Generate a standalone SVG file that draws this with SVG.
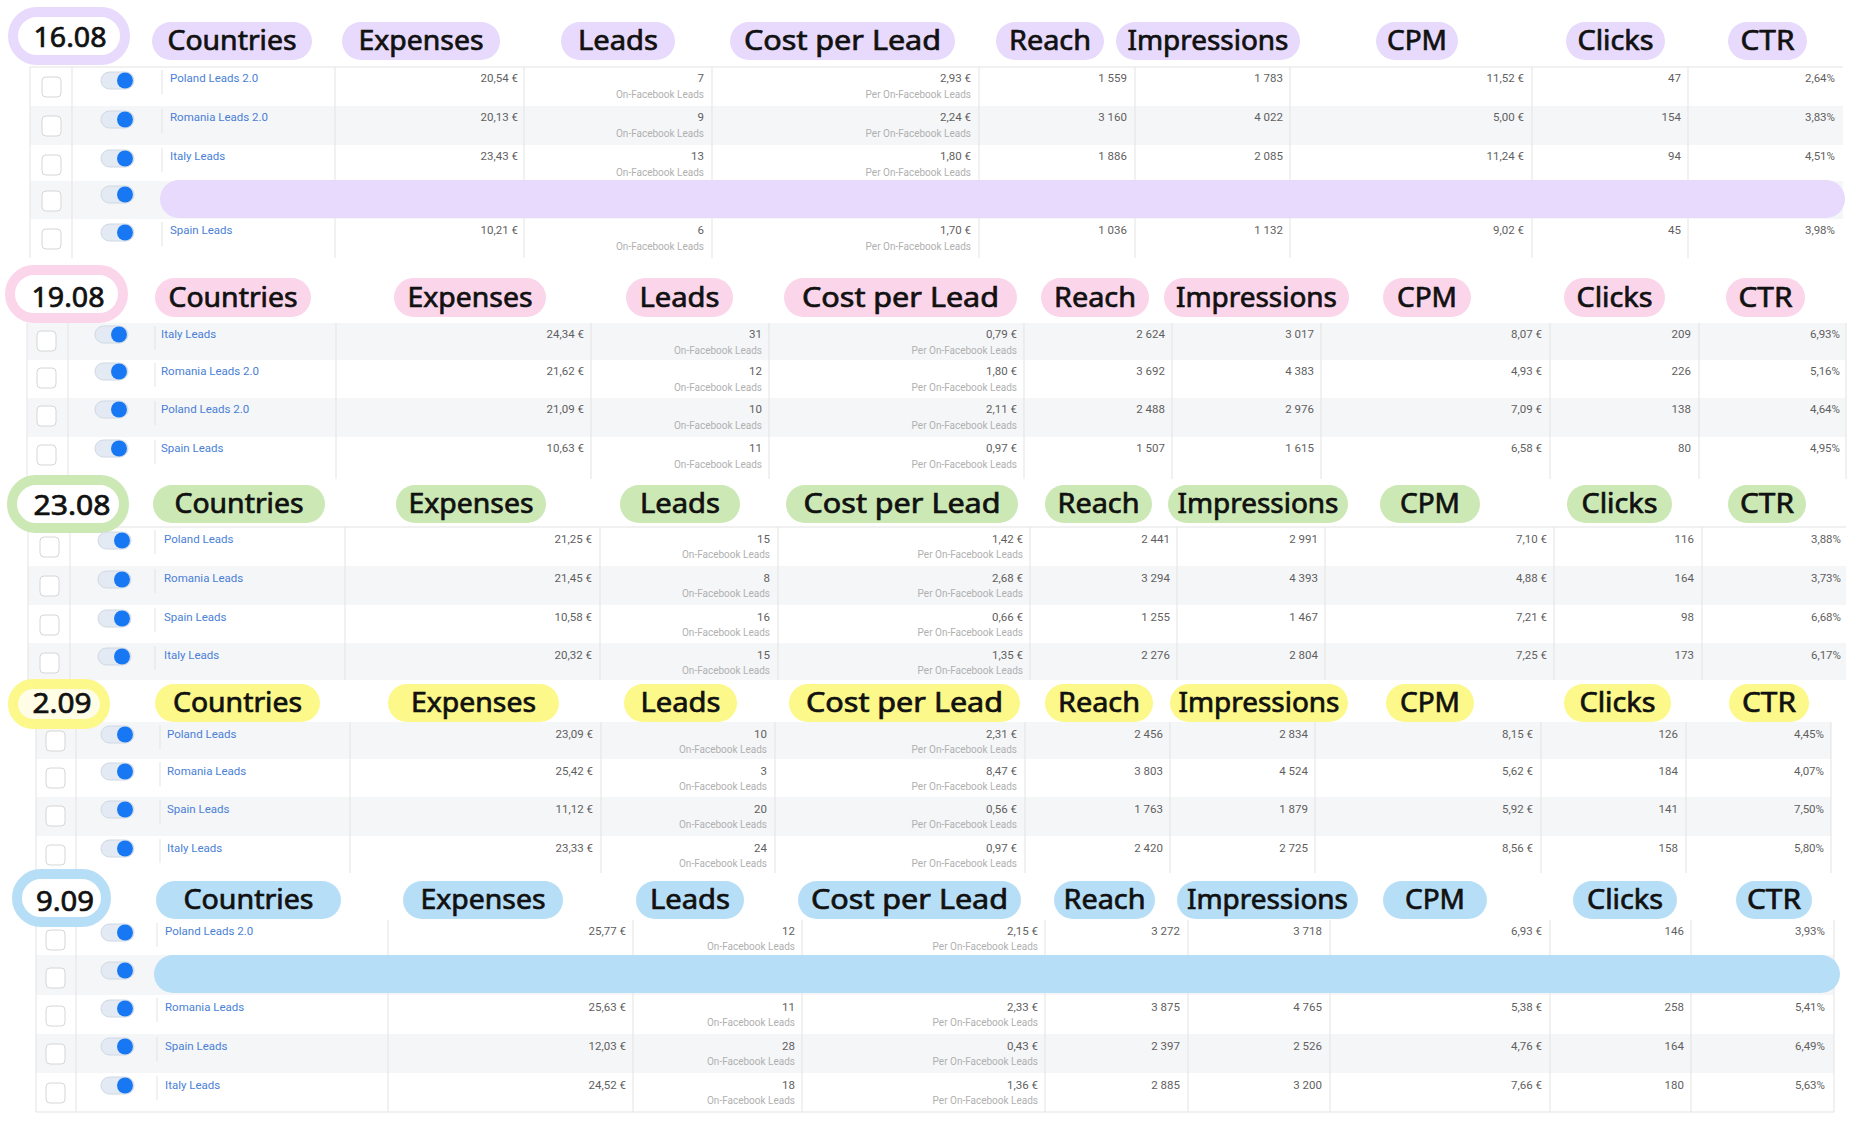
<svg xmlns="http://www.w3.org/2000/svg" xmlns:xlink="http://www.w3.org/1999/xlink" width="1858" height="1129" viewBox="0 0 1858 1129">
<style>
.h{font-family:"Noto Sans","DejaVu Sans",sans-serif;font-size:27px;fill:#111;stroke:#111;stroke-width:0.7px;text-anchor:middle}
.n{font-family:Roboto,"Liberation Sans",sans-serif;font-size:11.5px;fill:#4a7fd6}
.v{font-family:Roboto,"Liberation Sans",sans-serif;font-size:11.5px;fill:#5f5f5f;text-anchor:end}
.s{font-family:Roboto,"Liberation Sans",sans-serif;font-size:10px;fill:#b0b0b0;text-anchor:end}
.g{stroke:#e3e3e3;stroke-width:1}
.bg{fill:#f5f6f8}
.p1{fill:#e7dafc}.p2{fill:#fbd6eb}.p3{fill:#cbe8b5}.p4{fill:#fcf88a}.p5{fill:#b7def7}
</style>
<defs>
<rect id="cb" width="19" height="20" rx="4" fill="#fff" stroke="#d6d6d6"/>
<g id="tg"><rect width="33" height="17" rx="8.5" fill="#e3eaf4" stroke="#cfd8e3"/><circle cx="24" cy="8.5" r="8" fill="#1877f2"/></g>
</defs>
<rect width="1858" height="1129" fill="#fff"/>

<!-- ================= 16.08 ================= -->
<g id="sec-1608">
<g id="s1-bg"><rect class="bg" x="30" y="106" width="1813" height="39"/><rect class="bg" x="30" y="181" width="1813" height="38"/></g>
<g id="s1-grid">
<line class="g" x1="30" y1="67" x2="1843" y2="67"/>
<line class="g" x1="30" y1="67" x2="30" y2="258"/><line class="g" x1="72" y1="67" x2="72" y2="258"/>
<line class="g" x1="335" y1="67" x2="335" y2="258"/><line class="g" x1="524" y1="67" x2="524" y2="258"/><line class="g" x1="712" y1="67" x2="712" y2="258"/><line class="g" x1="979" y1="67" x2="979" y2="258"/><line class="g" x1="1135" y1="67" x2="1135" y2="258"/><line class="g" x1="1290" y1="67" x2="1290" y2="258"/><line class="g" x1="1532" y1="67" x2="1532" y2="258"/><line class="g" x1="1688" y1="67" x2="1688" y2="258"/>
<line class="g" x1="162" y1="70" x2="162" y2="94"/><line class="g" x1="162" y1="109" x2="162" y2="133"/><line class="g" x1="162" y1="148" x2="162" y2="172"/><line class="g" x1="162" y1="222" x2="162" y2="246"/>
</g>
<g id="s1-date"><rect x="13" y="12" width="112" height="48" rx="24" fill="#fff" stroke="#e7dafc" stroke-width="10"/><text class="h" x="70" y="47" textLength="73" lengthAdjust="spacingAndGlyphs">16.08</text></g>
<g id="s1-head">
<g id="s1-countries"><rect class="p1" x="152" y="22" width="160" height="38" rx="19"/><text class="h" x="232" y="50" textLength="129" lengthAdjust="spacingAndGlyphs">Countries</text></g>
<g id="s1-expenses"><rect class="p1" x="342" y="22" width="158" height="38" rx="19"/><text class="h" x="421" y="50" textLength="125" lengthAdjust="spacingAndGlyphs">Expenses</text></g>
<g id="s1-leads"><rect class="p1" x="561" y="22" width="114" height="38" rx="19"/><text class="h" x="618" y="50" textLength="80" lengthAdjust="spacingAndGlyphs">Leads</text></g>
<g id="s1-cpl"><rect class="p1" x="730" y="22" width="225" height="38" rx="19"/><text class="h" x="842.5" y="50" textLength="197" lengthAdjust="spacingAndGlyphs">Cost per Lead</text></g>
<g id="s1-reach"><rect class="p1" x="996" y="22" width="108" height="38" rx="19"/><text class="h" x="1050" y="50" textLength="82" lengthAdjust="spacingAndGlyphs">Reach</text></g>
<g id="s1-impr"><rect class="p1" x="1116" y="22" width="184" height="38" rx="19"/><text class="h" x="1208" y="50" textLength="161" lengthAdjust="spacingAndGlyphs">Impressions</text></g>
<g id="s1-cpm"><rect class="p1" x="1376" y="22" width="82" height="38" rx="19"/><text class="h" x="1417" y="50" textLength="60" lengthAdjust="spacingAndGlyphs">CPM</text></g>
<g id="s1-clicks"><rect class="p1" x="1566" y="22" width="99" height="38" rx="19"/><text class="h" x="1615.5" y="50" textLength="76" lengthAdjust="spacingAndGlyphs">Clicks</text></g>
<g id="s1-ctr"><rect class="p1" x="1728" y="22" width="79" height="38" rx="19"/><text class="h" x="1767.5" y="50" textLength="54" lengthAdjust="spacingAndGlyphs">CTR</text></g>
</g>
<g id="s1-rows">
<use href="#cb" x="42" y="77"/><use href="#tg" x="101" y="72"/>
<text class="n" x="170" y="82">Poland Leads 2.0</text><text class="v" x="518" y="82">20,54 €</text><text class="v" x="704" y="82">7</text><text class="s" x="704" y="98">On-Facebook Leads</text><text class="v" x="971" y="82">2,93 €</text><text class="s" x="971" y="98">Per On-Facebook Leads</text><text class="v" x="1127" y="82">1 559</text><text class="v" x="1283" y="82">1 783</text><text class="v" x="1524" y="82">11,52 €</text><text class="v" x="1681" y="82">47</text><text class="v" x="1835" y="82">2,64%</text>
<use href="#cb" x="42" y="116"/><use href="#tg" x="101" y="111"/>
<text class="n" x="170" y="121">Romania Leads 2.0</text><text class="v" x="518" y="121">20,13 €</text><text class="v" x="704" y="121">9</text><text class="s" x="704" y="137">On-Facebook Leads</text><text class="v" x="971" y="121">2,24 €</text><text class="s" x="971" y="137">Per On-Facebook Leads</text><text class="v" x="1127" y="121">3 160</text><text class="v" x="1283" y="121">4 022</text><text class="v" x="1524" y="121">5,00 €</text><text class="v" x="1681" y="121">154</text><text class="v" x="1835" y="121">3,83%</text>
<use href="#cb" x="42" y="155"/><use href="#tg" x="101" y="150"/>
<text class="n" x="170" y="160">Italy Leads</text><text class="v" x="518" y="160">23,43 €</text><text class="v" x="704" y="160">13</text><text class="s" x="704" y="176">On-Facebook Leads</text><text class="v" x="971" y="160">1,80 €</text><text class="s" x="971" y="176">Per On-Facebook Leads</text><text class="v" x="1127" y="160">1 886</text><text class="v" x="1283" y="160">2 085</text><text class="v" x="1524" y="160">11,24 €</text><text class="v" x="1681" y="160">94</text><text class="v" x="1835" y="160">4,51%</text>
<use href="#cb" x="42" y="191"/><use href="#tg" x="101" y="186"/>
<rect id="s1-highlight" class="p1" x="160" y="180" width="1685" height="38" rx="19"/>
<use href="#cb" x="42" y="229"/><use href="#tg" x="101" y="224"/>
<text class="n" x="170" y="234">Spain Leads</text><text class="v" x="518" y="234">10,21 €</text><text class="v" x="704" y="234">6</text><text class="s" x="704" y="250">On-Facebook Leads</text><text class="v" x="971" y="234">1,70 €</text><text class="s" x="971" y="250">Per On-Facebook Leads</text><text class="v" x="1127" y="234">1 036</text><text class="v" x="1283" y="234">1 132</text><text class="v" x="1524" y="234">9,02 €</text><text class="v" x="1681" y="234">45</text><text class="v" x="1835" y="234">3,98%</text>
</g>
</g>

<!-- ================= 19.08 ================= -->
<g id="sec-1908">
<g id="s2-bg"><rect class="bg" x="27" y="323" width="1819" height="37"/><rect class="bg" x="27" y="398" width="1819" height="39"/></g>
<g id="s2-grid">
<line class="g" x1="27" y1="323" x2="27" y2="479"/><line class="g" x1="68" y1="323" x2="68" y2="479"/>
<line class="g" x1="336" y1="323" x2="336" y2="479"/><line class="g" x1="591" y1="323" x2="591" y2="479"/><line class="g" x1="769" y1="323" x2="769" y2="479"/><line class="g" x1="1024" y1="323" x2="1024" y2="479"/><line class="g" x1="1172" y1="323" x2="1172" y2="479"/><line class="g" x1="1321" y1="323" x2="1321" y2="479"/><line class="g" x1="1550" y1="323" x2="1550" y2="479"/><line class="g" x1="1699" y1="323" x2="1699" y2="479"/><line class="g" x1="1846" y1="323" x2="1846" y2="479"/>
<line class="g" x1="155" y1="326" x2="155" y2="350"/><line class="g" x1="155" y1="363" x2="155" y2="387"/><line class="g" x1="155" y1="401" x2="155" y2="425"/><line class="g" x1="155" y1="440" x2="155" y2="464"/>
</g>
<g id="s2-date"><rect x="10" y="270" width="113" height="48" rx="24" fill="#fff" stroke="#fbd6eb" stroke-width="10"/><text class="h" x="68" y="307" textLength="73" lengthAdjust="spacingAndGlyphs">19.08</text></g>
<g id="s2-head">
<g id="s2-countries"><rect class="p2" x="155" y="278" width="156" height="39" rx="19.5"/><text class="h" x="233" y="306.5" textLength="129" lengthAdjust="spacingAndGlyphs">Countries</text></g>
<g id="s2-expenses"><rect class="p2" x="394" y="278" width="152" height="39" rx="19.5"/><text class="h" x="470" y="306.5" textLength="125" lengthAdjust="spacingAndGlyphs">Expenses</text></g>
<g id="s2-leads"><rect class="p2" x="626" y="278" width="107" height="39" rx="19.5"/><text class="h" x="679.5" y="306.5" textLength="80" lengthAdjust="spacingAndGlyphs">Leads</text></g>
<g id="s2-cpl"><rect class="p2" x="784" y="278" width="233" height="39" rx="19.5"/><text class="h" x="900.5" y="306.5" textLength="197" lengthAdjust="spacingAndGlyphs">Cost per Lead</text></g>
<g id="s2-reach"><rect class="p2" x="1041" y="278" width="108" height="39" rx="19.5"/><text class="h" x="1095" y="306.5" textLength="82" lengthAdjust="spacingAndGlyphs">Reach</text></g>
<g id="s2-impr"><rect class="p2" x="1164" y="278" width="185" height="39" rx="19.5"/><text class="h" x="1256.5" y="306.5" textLength="161" lengthAdjust="spacingAndGlyphs">Impressions</text></g>
<g id="s2-cpm"><rect class="p2" x="1383" y="278" width="88" height="39" rx="19.5"/><text class="h" x="1427" y="306.5" textLength="60" lengthAdjust="spacingAndGlyphs">CPM</text></g>
<g id="s2-clicks"><rect class="p2" x="1564" y="278" width="101" height="39" rx="19.5"/><text class="h" x="1614.5" y="306.5" textLength="76" lengthAdjust="spacingAndGlyphs">Clicks</text></g>
<g id="s2-ctr"><rect class="p2" x="1726" y="278" width="79" height="39" rx="19.5"/><text class="h" x="1765.5" y="306.5" textLength="54" lengthAdjust="spacingAndGlyphs">CTR</text></g>
</g>
<g id="s2-rows">
<use href="#cb" x="37" y="331"/><use href="#tg" x="95" y="326"/>
<text class="n" x="161" y="338">Italy Leads</text><text class="v" x="584" y="338">24,34 €</text><text class="v" x="762" y="338">31</text><text class="s" x="762" y="354">On-Facebook Leads</text><text class="v" x="1017" y="338">0,79 €</text><text class="s" x="1017" y="354">Per On-Facebook Leads</text><text class="v" x="1165" y="338">2 624</text><text class="v" x="1314" y="338">3 017</text><text class="v" x="1542" y="338">8,07 €</text><text class="v" x="1691" y="338">209</text><text class="v" x="1840" y="338">6,93%</text>
<use href="#cb" x="37" y="368"/><use href="#tg" x="95" y="363"/>
<text class="n" x="161" y="375">Romania Leads 2.0</text><text class="v" x="584" y="375">21,62 €</text><text class="v" x="762" y="375">12</text><text class="s" x="762" y="391">On-Facebook Leads</text><text class="v" x="1017" y="375">1,80 €</text><text class="s" x="1017" y="391">Per On-Facebook Leads</text><text class="v" x="1165" y="375">3 692</text><text class="v" x="1314" y="375">4 383</text><text class="v" x="1542" y="375">4,93 €</text><text class="v" x="1691" y="375">226</text><text class="v" x="1840" y="375">5,16%</text>
<use href="#cb" x="37" y="406"/><use href="#tg" x="95" y="401"/>
<text class="n" x="161" y="413">Poland Leads 2.0</text><text class="v" x="584" y="413">21,09 €</text><text class="v" x="762" y="413">10</text><text class="s" x="762" y="429">On-Facebook Leads</text><text class="v" x="1017" y="413">2,11 €</text><text class="s" x="1017" y="429">Per On-Facebook Leads</text><text class="v" x="1165" y="413">2 488</text><text class="v" x="1314" y="413">2 976</text><text class="v" x="1542" y="413">7,09 €</text><text class="v" x="1691" y="413">138</text><text class="v" x="1840" y="413">4,64%</text>
<use href="#cb" x="37" y="445"/><use href="#tg" x="95" y="440"/>
<text class="n" x="161" y="452">Spain Leads</text><text class="v" x="584" y="452">10,63 €</text><text class="v" x="762" y="452">11</text><text class="s" x="762" y="468">On-Facebook Leads</text><text class="v" x="1017" y="452">0,97 €</text><text class="s" x="1017" y="468">Per On-Facebook Leads</text><text class="v" x="1165" y="452">1 507</text><text class="v" x="1314" y="452">1 615</text><text class="v" x="1542" y="452">6,58 €</text><text class="v" x="1691" y="452">80</text><text class="v" x="1840" y="452">4,95%</text>
</g>
</g>

<!-- ================= 23.08 ================= -->
<g id="sec-2308">
<g id="s3-bg"><rect class="bg" x="28" y="566" width="1818" height="39"/><rect class="bg" x="28" y="643" width="1818" height="37"/></g>
<g id="s3-grid">
<line class="g" x1="28" y1="527" x2="1846" y2="527"/>
<line class="g" x1="28" y1="527" x2="28" y2="680"/><line class="g" x1="70" y1="527" x2="70" y2="680"/>
<line class="g" x1="345" y1="527" x2="345" y2="680"/><line class="g" x1="600" y1="527" x2="600" y2="680"/><line class="g" x1="778" y1="527" x2="778" y2="680"/><line class="g" x1="1030" y1="527" x2="1030" y2="680"/><line class="g" x1="1177" y1="527" x2="1177" y2="680"/><line class="g" x1="1325" y1="527" x2="1325" y2="680"/><line class="g" x1="1554" y1="527" x2="1554" y2="680"/><line class="g" x1="1702" y1="527" x2="1702" y2="680"/>
<line class="g" x1="155" y1="530" x2="155" y2="554"/><line class="g" x1="155" y1="569" x2="155" y2="593"/><line class="g" x1="155" y1="608" x2="155" y2="632"/><line class="g" x1="155" y1="646" x2="155" y2="670"/>
</g>
<g id="s3-date"><rect x="12" y="480" width="112" height="48" rx="24" fill="#fff" stroke="#cbe8b5" stroke-width="10"/><text class="h" x="72" y="515" textLength="77" lengthAdjust="spacingAndGlyphs">23.08</text></g>
<g id="s3-head">
<g id="s3-countries"><rect class="p3" x="153" y="485" width="172" height="38" rx="19"/><text class="h" x="239" y="513" textLength="129" lengthAdjust="spacingAndGlyphs">Countries</text></g>
<g id="s3-expenses"><rect class="p3" x="396" y="485" width="150" height="38" rx="19"/><text class="h" x="471" y="513" textLength="125" lengthAdjust="spacingAndGlyphs">Expenses</text></g>
<g id="s3-leads"><rect class="p3" x="620" y="485" width="120" height="38" rx="19"/><text class="h" x="680" y="513" textLength="80" lengthAdjust="spacingAndGlyphs">Leads</text></g>
<g id="s3-cpl"><rect class="p3" x="786" y="485" width="232" height="38" rx="19"/><text class="h" x="902" y="513" textLength="197" lengthAdjust="spacingAndGlyphs">Cost per Lead</text></g>
<g id="s3-reach"><rect class="p3" x="1045" y="485" width="107" height="38" rx="19"/><text class="h" x="1098.5" y="513" textLength="82" lengthAdjust="spacingAndGlyphs">Reach</text></g>
<g id="s3-impr"><rect class="p3" x="1168" y="485" width="180" height="38" rx="19"/><text class="h" x="1258" y="513" textLength="161" lengthAdjust="spacingAndGlyphs">Impressions</text></g>
<g id="s3-cpm"><rect class="p3" x="1380" y="485" width="100" height="38" rx="19"/><text class="h" x="1430" y="513" textLength="60" lengthAdjust="spacingAndGlyphs">CPM</text></g>
<g id="s3-clicks"><rect class="p3" x="1567" y="485" width="105" height="38" rx="19"/><text class="h" x="1619.5" y="513" textLength="76" lengthAdjust="spacingAndGlyphs">Clicks</text></g>
<g id="s3-ctr"><rect class="p3" x="1728" y="485" width="78" height="38" rx="19"/><text class="h" x="1767" y="513" textLength="54" lengthAdjust="spacingAndGlyphs">CTR</text></g>
</g>
<g id="s3-rows">
<use href="#cb" x="40" y="537"/><use href="#tg" x="98" y="532"/>
<text class="n" x="164" y="543">Poland Leads</text><text class="v" x="592" y="543">21,25 €</text><text class="v" x="770" y="543">15</text><text class="s" x="770" y="558">On-Facebook Leads</text><text class="v" x="1023" y="543">1,42 €</text><text class="s" x="1023" y="558">Per On-Facebook Leads</text><text class="v" x="1170" y="543">2 441</text><text class="v" x="1318" y="543">2 991</text><text class="v" x="1547" y="543">7,10 €</text><text class="v" x="1694" y="543">116</text><text class="v" x="1841" y="543">3,88%</text>
<use href="#cb" x="40" y="576"/><use href="#tg" x="98" y="571"/>
<text class="n" x="164" y="582">Romania Leads</text><text class="v" x="592" y="582">21,45 €</text><text class="v" x="770" y="582">8</text><text class="s" x="770" y="597">On-Facebook Leads</text><text class="v" x="1023" y="582">2,68 €</text><text class="s" x="1023" y="597">Per On-Facebook Leads</text><text class="v" x="1170" y="582">3 294</text><text class="v" x="1318" y="582">4 393</text><text class="v" x="1547" y="582">4,88 €</text><text class="v" x="1694" y="582">164</text><text class="v" x="1841" y="582">3,73%</text>
<use href="#cb" x="40" y="615"/><use href="#tg" x="98" y="610"/>
<text class="n" x="164" y="621">Spain Leads</text><text class="v" x="592" y="621">10,58 €</text><text class="v" x="770" y="621">16</text><text class="s" x="770" y="636">On-Facebook Leads</text><text class="v" x="1023" y="621">0,66 €</text><text class="s" x="1023" y="636">Per On-Facebook Leads</text><text class="v" x="1170" y="621">1 255</text><text class="v" x="1318" y="621">1 467</text><text class="v" x="1547" y="621">7,21 €</text><text class="v" x="1694" y="621">98</text><text class="v" x="1841" y="621">6,68%</text>
<use href="#cb" x="40" y="653"/><use href="#tg" x="98" y="648"/>
<text class="n" x="164" y="659">Italy Leads</text><text class="v" x="592" y="659">20,32 €</text><text class="v" x="770" y="659">15</text><text class="s" x="770" y="674">On-Facebook Leads</text><text class="v" x="1023" y="659">1,35 €</text><text class="s" x="1023" y="674">Per On-Facebook Leads</text><text class="v" x="1170" y="659">2 276</text><text class="v" x="1318" y="659">2 804</text><text class="v" x="1547" y="659">7,25 €</text><text class="v" x="1694" y="659">173</text><text class="v" x="1841" y="659">6,17%</text>
</g>
</g>

<!-- ================= 2.09 ================= -->
<g id="sec-0209">
<g id="s4-bg"><rect class="bg" x="36" y="722" width="1795" height="37"/><rect class="bg" x="36" y="797" width="1795" height="39"/></g>
<g id="s4-grid">
<line class="g" x1="36" y1="722" x2="36" y2="873"/><line class="g" x1="76" y1="722" x2="76" y2="873"/>
<line class="g" x1="350" y1="722" x2="350" y2="873"/><line class="g" x1="601" y1="722" x2="601" y2="873"/><line class="g" x1="775" y1="722" x2="775" y2="873"/><line class="g" x1="1025" y1="722" x2="1025" y2="873"/><line class="g" x1="1170" y1="722" x2="1170" y2="873"/><line class="g" x1="1315" y1="722" x2="1315" y2="873"/><line class="g" x1="1541" y1="722" x2="1541" y2="873"/><line class="g" x1="1686" y1="722" x2="1686" y2="873"/><line class="g" x1="1831" y1="722" x2="1831" y2="873"/>
<line class="g" x1="160" y1="725" x2="160" y2="749"/><line class="g" x1="160" y1="762" x2="160" y2="786"/><line class="g" x1="160" y1="800" x2="160" y2="824"/><line class="g" x1="160" y1="839" x2="160" y2="863"/>
</g>
<g id="s4-head">
<g id="s4-countries"><rect class="p4" x="155" y="684" width="165" height="38" rx="19"/><text class="h" x="237.5" y="712" textLength="129" lengthAdjust="spacingAndGlyphs">Countries</text></g>
<g id="s4-expenses"><rect class="p4" x="388" y="684" width="171" height="38" rx="19"/><text class="h" x="473.5" y="712" textLength="125" lengthAdjust="spacingAndGlyphs">Expenses</text></g>
<g id="s4-leads"><rect class="p4" x="624" y="684" width="113" height="38" rx="19"/><text class="h" x="680.5" y="712" textLength="80" lengthAdjust="spacingAndGlyphs">Leads</text></g>
<g id="s4-cpl"><rect class="p4" x="789" y="684" width="231" height="38" rx="19"/><text class="h" x="904.5" y="712" textLength="197" lengthAdjust="spacingAndGlyphs">Cost per Lead</text></g>
<g id="s4-reach"><rect class="p4" x="1045" y="684" width="108" height="38" rx="19"/><text class="h" x="1099" y="712" textLength="82" lengthAdjust="spacingAndGlyphs">Reach</text></g>
<g id="s4-impr"><rect class="p4" x="1170" y="684" width="178" height="38" rx="19"/><text class="h" x="1259" y="712" textLength="161" lengthAdjust="spacingAndGlyphs">Impressions</text></g>
<g id="s4-cpm"><rect class="p4" x="1386" y="684" width="88" height="38" rx="19"/><text class="h" x="1430" y="712" textLength="60" lengthAdjust="spacingAndGlyphs">CPM</text></g>
<g id="s4-clicks"><rect class="p4" x="1564" y="684" width="107" height="38" rx="19"/><text class="h" x="1617.5" y="712" textLength="76" lengthAdjust="spacingAndGlyphs">Clicks</text></g>
<g id="s4-ctr"><rect class="p4" x="1729" y="684" width="80" height="38" rx="19"/><text class="h" x="1769" y="712" textLength="54" lengthAdjust="spacingAndGlyphs">CTR</text></g>
</g>
<g id="s4-rows">
<use href="#cb" x="46" y="731"/><use href="#tg" x="101" y="726"/>
<text class="n" x="167" y="738">Poland Leads</text><text class="v" x="593" y="738">23,09 €</text><text class="v" x="767" y="738">10</text><text class="s" x="767" y="753">On-Facebook Leads</text><text class="v" x="1017" y="738">2,31 €</text><text class="s" x="1017" y="753">Per On-Facebook Leads</text><text class="v" x="1163" y="738">2 456</text><text class="v" x="1308" y="738">2 834</text><text class="v" x="1533" y="738">8,15 €</text><text class="v" x="1678" y="738">126</text><text class="v" x="1824" y="738">4,45%</text>
<use href="#cb" x="46" y="768"/><use href="#tg" x="101" y="763"/>
<text class="n" x="167" y="775">Romania Leads</text><text class="v" x="593" y="775">25,42 €</text><text class="v" x="767" y="775">3</text><text class="s" x="767" y="790">On-Facebook Leads</text><text class="v" x="1017" y="775">8,47 €</text><text class="s" x="1017" y="790">Per On-Facebook Leads</text><text class="v" x="1163" y="775">3 803</text><text class="v" x="1308" y="775">4 524</text><text class="v" x="1533" y="775">5,62 €</text><text class="v" x="1678" y="775">184</text><text class="v" x="1824" y="775">4,07%</text>
<use href="#cb" x="46" y="806"/><use href="#tg" x="101" y="801"/>
<text class="n" x="167" y="813">Spain Leads</text><text class="v" x="593" y="813">11,12 €</text><text class="v" x="767" y="813">20</text><text class="s" x="767" y="828">On-Facebook Leads</text><text class="v" x="1017" y="813">0,56 €</text><text class="s" x="1017" y="828">Per On-Facebook Leads</text><text class="v" x="1163" y="813">1 763</text><text class="v" x="1308" y="813">1 879</text><text class="v" x="1533" y="813">5,92 €</text><text class="v" x="1678" y="813">141</text><text class="v" x="1824" y="813">7,50%</text>
<use href="#cb" x="46" y="845"/><use href="#tg" x="101" y="840"/>
<text class="n" x="167" y="852">Italy Leads</text><text class="v" x="593" y="852">23,33 €</text><text class="v" x="767" y="852">24</text><text class="s" x="767" y="867">On-Facebook Leads</text><text class="v" x="1017" y="852">0,97 €</text><text class="s" x="1017" y="867">Per On-Facebook Leads</text><text class="v" x="1163" y="852">2 420</text><text class="v" x="1308" y="852">2 725</text><text class="v" x="1533" y="852">8,56 €</text><text class="v" x="1678" y="852">158</text><text class="v" x="1824" y="852">5,80%</text>
</g>
<g id="s4-date"><rect x="13" y="684" width="92" height="40" rx="20" fill="#fffde6" stroke="#fcf88a" stroke-width="10"/><text class="h" x="62" y="713" textLength="59" lengthAdjust="spacingAndGlyphs">2.09</text></g>
</g>

<!-- ================= 9.09 ================= -->
<g id="sec-0909">
<g id="s5-bg"><rect class="bg" x="36" y="955" width="1798" height="40"/><rect class="bg" x="36" y="1034" width="1798" height="39"/></g>
<g id="s5-grid">
<line class="g" x1="36" y1="920" x2="36" y2="1112"/><line class="g" x1="76" y1="920" x2="76" y2="1112"/>
<line class="g" x1="388" y1="920" x2="388" y2="1112"/><line class="g" x1="633" y1="920" x2="633" y2="1112"/><line class="g" x1="802" y1="920" x2="802" y2="1112"/><line class="g" x1="1045" y1="920" x2="1045" y2="1112"/><line class="g" x1="1188" y1="920" x2="1188" y2="1112"/><line class="g" x1="1330" y1="920" x2="1330" y2="1112"/><line class="g" x1="1550" y1="920" x2="1550" y2="1112"/><line class="g" x1="1691" y1="920" x2="1691" y2="1112"/><line class="g" x1="1834" y1="920" x2="1834" y2="1112"/>
<line class="g" x1="36" y1="1112" x2="1834" y2="1112"/>
<line class="g" x1="157" y1="923" x2="157" y2="947"/><line class="g" x1="157" y1="998" x2="157" y2="1022"/><line class="g" x1="157" y1="1037" x2="157" y2="1061"/><line class="g" x1="157" y1="1076" x2="157" y2="1100"/>
</g>
<g id="s5-date"><rect x="17" y="874" width="89" height="48" rx="24" fill="#fff" stroke="#b7def7" stroke-width="10"/><text class="h" x="65" y="911" textLength="58" lengthAdjust="spacingAndGlyphs">9.09</text></g>
<g id="s5-head">
<g id="s5-countries"><rect class="p5" x="156" y="881" width="185" height="38" rx="19"/><text class="h" x="248.5" y="909" textLength="130" lengthAdjust="spacingAndGlyphs">Countries</text></g>
<g id="s5-expenses"><rect class="p5" x="403" y="881" width="160" height="38" rx="19"/><text class="h" x="483" y="909" textLength="125" lengthAdjust="spacingAndGlyphs">Expenses</text></g>
<g id="s5-leads"><rect class="p5" x="636" y="881" width="108" height="38" rx="19"/><text class="h" x="690" y="909" textLength="80" lengthAdjust="spacingAndGlyphs">Leads</text></g>
<g id="s5-cpl"><rect class="p5" x="798" y="881" width="223" height="38" rx="19"/><text class="h" x="909.5" y="909" textLength="197" lengthAdjust="spacingAndGlyphs">Cost per Lead</text></g>
<g id="s5-reach"><rect class="p5" x="1054" y="881" width="101" height="38" rx="19"/><text class="h" x="1104.5" y="909" textLength="82" lengthAdjust="spacingAndGlyphs">Reach</text></g>
<g id="s5-impr"><rect class="p5" x="1177" y="881" width="181" height="38" rx="19"/><text class="h" x="1267.5" y="909" textLength="161" lengthAdjust="spacingAndGlyphs">Impressions</text></g>
<g id="s5-cpm"><rect class="p5" x="1383" y="881" width="104" height="38" rx="19"/><text class="h" x="1435" y="909" textLength="60" lengthAdjust="spacingAndGlyphs">CPM</text></g>
<g id="s5-clicks"><rect class="p5" x="1573" y="881" width="104" height="38" rx="19"/><text class="h" x="1625" y="909" textLength="76" lengthAdjust="spacingAndGlyphs">Clicks</text></g>
<g id="s5-ctr"><rect class="p5" x="1736" y="881" width="76" height="38" rx="19"/><text class="h" x="1774" y="909" textLength="54" lengthAdjust="spacingAndGlyphs">CTR</text></g>
</g>
<g id="s5-rows">
<use href="#cb" x="46" y="930"/><use href="#tg" x="101" y="924"/>
<text class="n" x="165" y="935">Poland Leads 2.0</text><text class="v" x="626" y="935">25,77 €</text><text class="v" x="795" y="935">12</text><text class="s" x="795" y="950">On-Facebook Leads</text><text class="v" x="1038" y="935">2,15 €</text><text class="s" x="1038" y="950">Per On-Facebook Leads</text><text class="v" x="1180" y="935">3 272</text><text class="v" x="1322" y="935">3 718</text><text class="v" x="1542" y="935">6,93 €</text><text class="v" x="1684" y="935">146</text><text class="v" x="1825" y="935">3,93%</text>
<use href="#cb" x="46" y="968"/><use href="#tg" x="101" y="962"/>
<rect id="s5-highlight" class="p5" x="154" y="955" width="1686" height="38" rx="19"/>
<use href="#cb" x="46" y="1006"/><use href="#tg" x="101" y="1000"/>
<text class="n" x="165" y="1011">Romania Leads</text><text class="v" x="626" y="1011">25,63 €</text><text class="v" x="795" y="1011">11</text><text class="s" x="795" y="1026">On-Facebook Leads</text><text class="v" x="1038" y="1011">2,33 €</text><text class="s" x="1038" y="1026">Per On-Facebook Leads</text><text class="v" x="1180" y="1011">3 875</text><text class="v" x="1322" y="1011">4 765</text><text class="v" x="1542" y="1011">5,38 €</text><text class="v" x="1684" y="1011">258</text><text class="v" x="1825" y="1011">5,41%</text>
<use href="#cb" x="46" y="1044"/><use href="#tg" x="101" y="1038"/>
<text class="n" x="165" y="1050">Spain Leads</text><text class="v" x="626" y="1050">12,03 €</text><text class="v" x="795" y="1050">28</text><text class="s" x="795" y="1065">On-Facebook Leads</text><text class="v" x="1038" y="1050">0,43 €</text><text class="s" x="1038" y="1065">Per On-Facebook Leads</text><text class="v" x="1180" y="1050">2 397</text><text class="v" x="1322" y="1050">2 526</text><text class="v" x="1542" y="1050">4,76 €</text><text class="v" x="1684" y="1050">164</text><text class="v" x="1825" y="1050">6,49%</text>
<use href="#cb" x="46" y="1083"/><use href="#tg" x="101" y="1077"/>
<text class="n" x="165" y="1089">Italy Leads</text><text class="v" x="626" y="1089">24,52 €</text><text class="v" x="795" y="1089">18</text><text class="s" x="795" y="1104">On-Facebook Leads</text><text class="v" x="1038" y="1089">1,36 €</text><text class="s" x="1038" y="1104">Per On-Facebook Leads</text><text class="v" x="1180" y="1089">2 885</text><text class="v" x="1322" y="1089">3 200</text><text class="v" x="1542" y="1089">7,66 €</text><text class="v" x="1684" y="1089">180</text><text class="v" x="1825" y="1089">5,63%</text>
</g>
</g>
</svg>
